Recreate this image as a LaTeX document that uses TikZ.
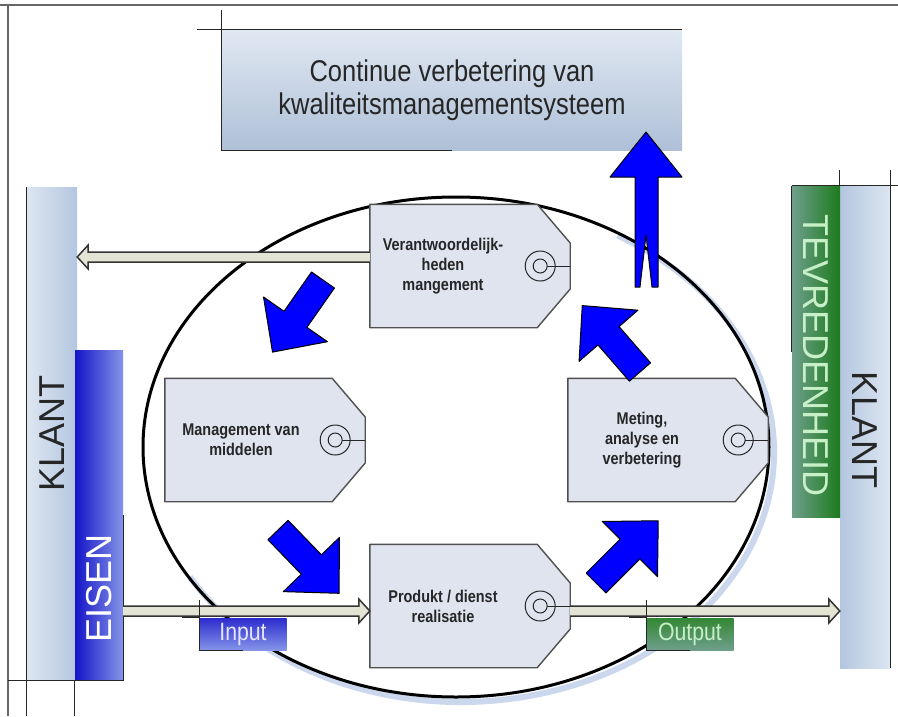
\documentclass[tikz,border=0pt]{standalone}
\usepackage{fontspec}
\setmainfont{Liberation Sans}
\newfontfamily\squeezed{Liberation Sans}[FakeStretch=0.85]
\usetikzlibrary{arrows.meta,positioning}

\definecolor{tagfill}{HTML}{DFE4EF}
\definecolor{tagline}{HTML}{505050}
\definecolor{paleblue}{HTML}{DDE6F1}
\definecolor{steelblue}{HTML}{B3C6E0}
\definecolor{deepblue}{HTML}{1414C8}
\definecolor{softblue}{HTML}{8494E8}
\definecolor{deepgreen}{HTML}{1C7A1C}
\definecolor{greygreen}{HTML}{6E9F8C}
\definecolor{mintgreen}{HTML}{C8F0C8}
\definecolor{shaftfill}{HTML}{E4E4D4}
\definecolor{glowblue}{HTML}{CBD7EC}

\tikzset{
  tagbox/.style={minimum width=200pt, minimum height=123pt, inner sep=0pt},
  tagshape/.style={draw=tagline, fill=tagfill, line width=1.4pt, line join=round},
  ringline/.style={draw=black!85, line width=1pt},
  tagtext/.style={font=\squeezed\bfseries\fontsize{17}{20}\selectfont, align=center, text=black!85},
  bar/.style={inner sep=0pt},
  bartext/.style={font=\fontsize{36}{36}\selectfont, inner sep=0pt},
  labelbox/.style={minimum width=87pt, minimum height=32pt, inner sep=0pt,
    font=\squeezed\fontsize{25}{25}\selectfont},
  flair/.style={draw=black!85, line width=1.2pt},
  hollowblock/.style={draw=black!80, fill=shaftfill, line width=1.5pt, line join=miter},
  arrowblue/.style={fill=blue, draw=black, line width=1pt, line join=round},
  bluearrow/.pic={\filldraw[arrowblue] (0,-14) -- (48,-14) -- (48,-39) -- (88,0)
    -- (48,39) -- (48,14) -- (0,14) -- cycle;}
}

\begin{document}
\begin{tikzpicture}[x=1pt, y=-1pt]
    \fill[white] (0,0) rectangle (898,716);
    \useasboundingbox (0,0) rectangle (898,716);
    \draw[black!60, line width=1.5pt] (0,5) -- (898,5) (8,5) -- (8,716);

    % title
    \node[minimum width=460pt, minimum height=120pt, inner sep=0pt, top color=paleblue!90!white,
      bottom color=steelblue!95!black!95, align=center, text=black!85,
      font=\squeezed\fontsize{30}{33}\selectfont] (titel) at (452,90)
      {Continue verbetering van\\kwaliteitsmanagementsysteem};
    \draw[flair] ([xshift=-25pt]titel.north west) -- (titel.north east);
    \draw[flair] ([yshift=20pt]titel.north west) -- (titel.south west) -- (titel.south);

    % the customer bars
    \node[bar, minimum width=50pt, minimum height=493pt, left color=paleblue, right color=steelblue] (klantL) at (52,433.5) {};
    \node[bar, minimum width=48pt, minimum height=330pt, left color=deepblue, right color=softblue] (eisen) at (99,515) {};
    \node[bar, minimum width=50pt, minimum height=482pt, left color=steelblue, right color=paleblue] (klantR) at (865,427) {};
    \node[bar, minimum width=48pt, minimum height=331pt, left color=greygreen, right color=deepgreen] (tevred) at (816,351.5) {};
    \node[bartext, rotate=90, text=black!85] (klantLtext) at (klantL) {KLANT};
    \node[bartext, rotate=90, text=white] (eisentext) at ([yshift=92pt]eisen.south) {EISEN};
    \node[bartext, rotate=-90, text=black!85] (klantRtext) at ([yshift=-3pt]klantR) {KLANT};
    \node[bartext, rotate=-90, text=mintgreen] (tevredtext) at ([yshift=-4pt]tevred) {TEVREDENHEID};
    \draw[flair] (klantL.north west) -- (klantL.south west) -- ++(0,36);
    \draw[flair] ([xshift=-19pt]klantL.south west) -- (eisen.south east) -- (eisen.east);
    \draw[flair] (eisen.south west) -- ++(0,36);
    \draw[flair] (tevred.north west) -- ([xshift=8pt]klantR.north east);
    \draw[flair] ([yshift=16pt]klantR.north west) -- (klantR.north west);
    \draw[flair] ([yshift=16pt]klantR.north east) -- (klantR.south east);
    \draw[flair] (tevred.north west) -- (tevred.west);

    % process cycle
    \draw[glowblue, line width=6pt] (461,452) ++(-60:313 and 250)
      arc[start angle=-60, end angle=150, x radius=313, y radius=250];
    \draw[line width=3pt] (456,447) ellipse [x radius=313, y radius=250];

    \node[tagbox] (verant) at (470,266) {};
    \node[tagbox] (middel) at (265,440) {};
    \node[tagbox] (meting) at (668,440) {};
    \node[tagbox] (produkt) at (470,606) {};
    \foreach \tg in {verant,middel,meting,produkt}{
      \filldraw[tagshape] (\tg.north west) -- ([xshift=-33pt]\tg.north east) -- ([yshift=23pt]\tg.east)
        -- ([yshift=-23pt]\tg.east) -- ([xshift=-33pt]\tg.south east) -- (\tg.south west) -- cycle;
      \draw[ringline] ([xshift=-30pt]\tg.east) circle[radius=15pt] circle[radius=7pt];
      \draw[ringline] ([xshift=-23pt]\tg.east) -- (\tg.east);
    }
    \node[tagtext] (veranttext) at ([xshift=-27pt]verant.center) {Verantwoordelijk-\\heden\\mangement};
    \node[tagtext] (middeltext) at ([xshift=-24pt]middel.center) {Management van\\middelen};
    \node[tagtext] (metingtext) at ([xshift=-26pt]meting.center) {Meting,\\analyse en\\verbetering};
    \node[tagtext] (produkttext) at ([xshift=-27pt]produkt.center) {Produkt / dienst\\realisatie};

    % flows
    \coordinate (backstart) at ([yshift=9pt]verant.west);
    \coordinate (backend) at (klantL.east |- backstart);
    \coordinate (inend) at ([yshift=-5pt]produkt.west);
    \coordinate (instart) at (eisen.east |- inend);
    \coordinate (outstart) at ([yshift=-5pt]produkt.east);
    \coordinate (outend) at (klantR.west |- outstart);
    \foreach \from/\to/\s in {backstart/backend/-1, instart/inend/1, outstart/outend/1}{
      \filldraw[hollowblock] ([yshift=5pt]\from) -- ([xshift=-11pt*\s, yshift=5pt]\to)
        -- ([xshift=-11pt*\s, yshift=12pt]\to) -- (\to) -- ([xshift=-11pt*\s, yshift=-12pt]\to)
        -- ([xshift=-11pt*\s, yshift=-5pt]\to) -- ([yshift=-5pt]\from);
    }

    \node[labelbox, top color=deepblue!90!white, bottom color=softblue, text=white!90!blue] (input) at (243,634) {Input};
    \node[labelbox, top color=deepgreen!90!white, bottom color=greygreen, text=mintgreen] (output) at (690,634) {Output};
    \draw[flair] ([yshift=18pt]input.north west) -- (input.south west) -- (input.south);
    \draw[flair] ([xshift=-17pt]input.north west) -- (input.north west);
    \draw[flair] ([yshift=18pt]output.north west) -- (output.south west) -- (output.south);
    \draw[flair] ([xshift=-17pt]output.north west) -- (output.north west);

    % the cycle arrows
    \pic[rotate=235] at (323,280) {bluearrow};
    \pic[rotate=-46] at (278,530) {bluearrow};
    \pic[rotate=45] at (596,583) {bluearrow};
    \pic[rotate=131] at (640,372) {bluearrow};
    \filldraw[arrowblue] (646,132) -- (682,177) -- (658,177) -- (658,287) -- (652,287) -- (646,235)
      -- (640,287) -- (635,287) -- (635,177) -- (610,177) -- cycle;
\end{tikzpicture}
\end{document}
